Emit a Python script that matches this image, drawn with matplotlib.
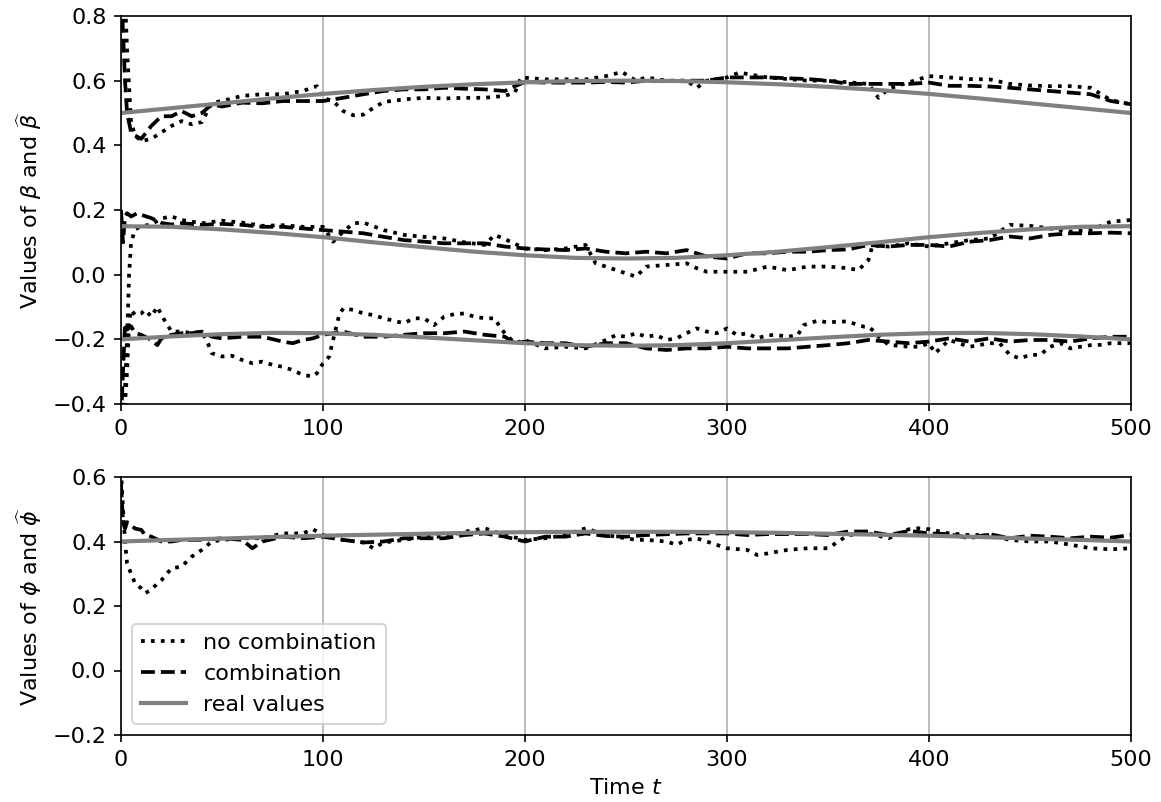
import numpy as np
import matplotlib
matplotlib.use('Agg')
import matplotlib.pyplot as plt

plt.rcParams['font.size'] = 10.7

# real values (read every 25 steps)
t_real = [0, 25, 50, 75, 100, 125, 150, 175, 200, 225, 250,
          275, 300, 325, 350, 375, 400, 425, 450, 475, 500]
beta1_real = [0.50, 0.515, 0.53, 0.545, 0.559, 0.571, 0.581, 0.589, 0.595, 0.599, 0.60,
              0.599, 0.595, 0.589, 0.581, 0.571, 0.559, 0.545, 0.53, 0.515, 0.50]
beta2_real = [0.15, 0.148, 0.14, 0.129, 0.116, 0.10, 0.085, 0.071, 0.06, 0.052, 0.05,
              0.052, 0.06, 0.071, 0.085, 0.10, 0.116, 0.129, 0.14, 0.148, 0.15]
beta3_real = [-0.20, -0.191, -0.184, -0.18, -0.181, -0.186, -0.194, -0.203, -0.212, -0.218, -0.22,
              -0.218, -0.212, -0.203, -0.194, -0.186, -0.181, -0.18, -0.184, -0.191, -0.20]
phi_real = [0.40, 0.405, 0.409, 0.414, 0.418, 0.421, 0.424, 0.427, 0.429, 0.43, 0.43,
            0.43, 0.429, 0.427, 0.424, 0.421, 0.418, 0.414, 0.409, 0.405, 0.40]

# beta1 estimates
t_b1_nc = [0, 2, 3, 4, 5, 7, 10, 15, 20, 25, 30, 35, 40, 45, 50, 60, 70, 80, 90, 97,
           100, 105, 110, 115, 120, 125, 130, 140, 150, 160, 170, 180, 190, 195, 198,
           210, 220, 230, 240, 248, 255, 260, 270, 280, 285, 290, 300, 306, 320, 340,
           350, 360, 370, 375, 380, 390, 400, 410, 420, 430, 440, 450, 460, 470, 480,
           490, 500]
b1_nc = [0.95, 0.85, 0.7, 0.58, 0.47, 0.43, 0.413, 0.42, 0.44, 0.46, 0.475, 0.465, 0.472, 0.532, 0.537, 0.553, 0.558, 0.558, 0.568, 0.583,
         0.547, 0.537, 0.506, 0.493, 0.495, 0.516, 0.534, 0.542, 0.547, 0.545, 0.547, 0.547, 0.553, 0.563, 0.61,
         0.604, 0.604, 0.604, 0.614, 0.627, 0.60, 0.61, 0.60, 0.60, 0.578, 0.60, 0.61, 0.625, 0.61, 0.60,
         0.60, 0.595, 0.59, 0.547, 0.575, 0.595, 0.614, 0.61, 0.605, 0.604, 0.59, 0.585, 0.583, 0.583, 0.578,
         0.54, 0.527]
t_b1_c = [0, 1, 2, 3, 5, 7, 10, 15, 20, 25, 30, 35, 40, 45, 50, 60, 70, 80, 90, 100,
          110, 120, 130, 140, 150, 160, 170, 180, 190, 195, 200, 210, 220, 230, 240, 250,
          260, 270, 280, 290, 300, 320, 340, 350, 360, 370, 380, 390, 400, 410, 420, 430,
          440, 450, 460, 470, 480, 490, 500]
b1_c = [0.9, 0.75, 0.6, 0.5, 0.44, 0.43, 0.42, 0.46, 0.49, 0.49, 0.506, 0.49, 0.50, 0.527, 0.52, 0.532, 0.53, 0.537, 0.537, 0.537,
        0.547, 0.558, 0.568, 0.573, 0.573, 0.578, 0.575, 0.573, 0.568, 0.583, 0.596, 0.594, 0.594, 0.594, 0.596, 0.594,
        0.60, 0.598, 0.60, 0.60, 0.61, 0.61, 0.605, 0.60, 0.59, 0.59, 0.59, 0.59, 0.594, 0.584, 0.584, 0.582,
        0.578, 0.573, 0.568, 0.563, 0.558, 0.537, 0.527]

# beta2 estimates
t_b2_nc = [0, 2, 3, 4, 5, 7, 10, 15, 20, 25, 30, 40, 50, 60, 70, 80, 90, 100, 105, 110,
           115, 120, 130, 140, 150, 160, 170, 180, 185, 190, 200, 210, 220, 230, 235, 240,
           250, 255, 260, 270, 280, 285, 290, 300, 310, 320, 330, 340, 350, 360, 365, 370,
           372, 380, 390, 400, 410, 420, 430, 440, 450, 460, 470, 480, 490, 500]
b2_nc = [-0.5, -0.35, -0.2, 0.0, 0.1, 0.14, 0.15, 0.155, 0.174, 0.18, 0.169, 0.159, 0.167, 0.161, 0.151, 0.153, 0.148, 0.148, 0.102, 0.133,
         0.159, 0.161, 0.138, 0.123, 0.117, 0.112, 0.10, 0.092, 0.123, 0.11, 0.081, 0.076, 0.081, 0.092, 0.035, 0.025,
         0.004, -0.006, 0.025, 0.03, 0.035, 0.02, 0.009, 0.009, 0.009, 0.025, 0.014, 0.025, 0.025, 0.02, 0.014, 0.045,
         0.09, 0.087, 0.097, 0.087, 0.097, 0.107, 0.112, 0.154, 0.151, 0.143, 0.133, 0.138, 0.164, 0.169]
t_b2_c = [0, 1, 2, 3, 5, 8, 10, 15, 20, 25, 30, 40, 50, 60, 70, 80, 90, 100, 110, 120,
          130, 140, 150, 160, 170, 180, 190, 200, 210, 220, 230, 240, 250, 260, 270, 280,
          290, 300, 310, 320, 330, 340, 350, 360, 370, 380, 390, 400, 410, 420, 430, 440,
          450, 460, 470, 480, 490, 500]
b2_c = [0.2, 0.1, 0.18, 0.19, 0.18, 0.19, 0.185, 0.175, 0.16, 0.155, 0.159, 0.154, 0.157, 0.154, 0.148, 0.148, 0.143, 0.138, 0.133, 0.128,
        0.117, 0.107, 0.102, 0.097, 0.097, 0.097, 0.087, 0.081, 0.078, 0.076, 0.081, 0.071, 0.066, 0.071, 0.066, 0.076,
        0.056, 0.05, 0.066, 0.066, 0.071, 0.071, 0.076, 0.078, 0.092, 0.087, 0.092, 0.092, 0.087, 0.102, 0.107, 0.118,
        0.112, 0.123, 0.128, 0.128, 0.13, 0.128]

# beta3 estimates
t_b3_nc = [0, 2, 3, 4, 5, 7, 10, 12, 15, 18, 20, 25, 30, 35, 40, 43, 45, 50, 55, 60,
           65, 70, 75, 80, 85, 90, 95, 97, 100, 103, 105, 108, 110, 115, 120, 125, 130,
           140, 145, 150, 155, 160, 165, 170, 175, 180, 185, 188, 190, 195, 200, 210, 220,
           230, 240, 245, 250, 255, 260, 265, 270, 275, 280, 285, 290, 295, 300, 305, 310,
           315, 320, 325, 330, 335, 338, 345, 350, 355, 360, 365, 368, 370, 373, 375, 380,
           390, 395, 400, 403, 410, 420, 430, 435, 440, 445, 450, 455, 460, 465, 470, 475,
           480, 485, 490, 495, 500]
b3_nc = [-0.5, -0.4, -0.3, -0.15, -0.109, -0.125, -0.12, -0.109, -0.13, -0.099, -0.125, -0.176, -0.176, -0.181, -0.176, -0.212, -0.243, -0.253, -0.251, -0.264,
         -0.274, -0.269, -0.279, -0.285, -0.295, -0.31, -0.315, -0.305, -0.274, -0.254, -0.202, -0.125, -0.104, -0.109, -0.12, -0.125, -0.135,
         -0.15, -0.135, -0.135, -0.156, -0.13, -0.122, -0.12, -0.13, -0.135, -0.135, -0.166, -0.181, -0.212, -0.202, -0.228, -0.223,
         -0.228, -0.202, -0.187, -0.192, -0.181, -0.192, -0.187, -0.202, -0.197, -0.181, -0.166, -0.176, -0.181, -0.166, -0.187, -0.181,
         -0.197, -0.187, -0.187, -0.192, -0.187, -0.156, -0.142, -0.148, -0.145, -0.145, -0.156, -0.161, -0.161, -0.176, -0.192, -0.217,
         -0.223, -0.223, -0.212, -0.243, -0.202, -0.223, -0.212, -0.212, -0.248, -0.259, -0.248, -0.248, -0.223, -0.212, -0.228, -0.223,
         -0.218, -0.217, -0.212, -0.212, -0.212]
t_b3_c = [0, 1, 2, 3, 5, 7, 10, 15, 18, 20, 25, 30, 35, 40, 45, 50, 60, 70, 80, 85,
          90, 95, 100, 110, 120, 130, 140, 150, 160, 170, 180, 190, 195, 200, 210, 220,
          230, 240, 250, 260, 270, 280, 290, 300, 310, 320, 330, 340, 350, 360, 370, 380,
          390, 400, 410, 420, 430, 440, 450, 460, 470, 480, 490, 500]
b3_c = [-0.45, -0.3, -0.15, -0.17, -0.16, -0.18, -0.186, -0.202, -0.218, -0.197, -0.186, -0.181, -0.181, -0.176, -0.192, -0.197, -0.192, -0.192, -0.207, -0.212,
        -0.202, -0.197, -0.186, -0.176, -0.192, -0.192, -0.186, -0.181, -0.181, -0.176, -0.186, -0.192, -0.212, -0.207, -0.212, -0.212,
        -0.223, -0.212, -0.212, -0.228, -0.233, -0.228, -0.228, -0.223, -0.228, -0.228, -0.228, -0.223, -0.218, -0.212, -0.202, -0.207,
        -0.212, -0.207, -0.197, -0.207, -0.197, -0.207, -0.202, -0.202, -0.207, -0.197, -0.192, -0.192]

# phi estimates
t_phi_nc = [0, 1, 2, 3, 5, 7, 10, 12, 15, 18, 20, 25, 30, 35, 40, 45, 50, 60, 70, 80,
            90, 95, 100, 110, 120, 125, 130, 140, 150, 160, 170, 180, 190, 200, 210, 220,
            230, 240, 250, 255, 260, 270, 275, 280, 285, 290, 300, 310, 315, 320, 330, 340,
            350, 360, 370, 380, 390, 395, 400, 410, 420, 430, 440, 450, 460, 470, 480, 490, 500]
phi_nc = [0.62, 0.5, 0.4, 0.332, 0.30, 0.27, 0.255, 0.24, 0.25, 0.27, 0.28, 0.317, 0.322, 0.353, 0.374, 0.40, 0.405, 0.41, 0.41, 0.425,
          0.425, 0.438, 0.42, 0.405, 0.397, 0.379, 0.397, 0.405, 0.415, 0.415, 0.43, 0.441, 0.42, 0.405, 0.41, 0.42,
          0.441, 0.42, 0.41, 0.405, 0.405, 0.40, 0.39, 0.405, 0.41, 0.40, 0.379, 0.374, 0.358, 0.363, 0.374, 0.379,
          0.379, 0.42, 0.425, 0.41, 0.438, 0.441, 0.438, 0.425, 0.42, 0.42, 0.405, 0.40, 0.40, 0.39, 0.379, 0.376, 0.379]
t_phi_c = [0, 1, 2, 3, 5, 7, 10, 12, 15, 20, 25, 30, 40, 50, 60, 65, 70, 80, 90, 100,
           110, 120, 130, 140, 150, 160, 170, 180, 190, 200, 210, 220, 230, 240, 250, 260,
           280, 300, 310, 320, 340, 350, 360, 370, 380, 390, 400, 410, 420, 430, 440, 450,
           460, 470, 480, 490, 500]
phi_c = [0.58, 0.46, 0.44, 0.46, 0.45, 0.44, 0.436, 0.42, 0.415, 0.40, 0.40, 0.405, 0.405, 0.41, 0.405, 0.379, 0.40, 0.415, 0.41, 0.415,
         0.405, 0.397, 0.40, 0.41, 0.41, 0.41, 0.42, 0.425, 0.415, 0.40, 0.415, 0.415, 0.425, 0.417, 0.415, 0.42,
         0.425, 0.425, 0.42, 0.423, 0.423, 0.42, 0.431, 0.431, 0.42, 0.433, 0.425, 0.423, 0.41, 0.423, 0.41, 0.418,
         0.415, 0.41, 0.415, 0.412, 0.42]

W, H = 1161, 802
fig = plt.figure(figsize=(W / 150, H / 150), dpi=150)
ax1 = fig.add_axes([121 / W, 1 - 404 / H, 1010 / W, 388 / H])
ax2 = fig.add_axes([121 / W, 1 - 735 / H, 1010 / W, 258 / H])

lw = 1.8
for t, y in [(t_b1_nc, b1_nc), (t_b2_nc, b2_nc), (t_b3_nc, b3_nc)]:
    ax1.plot(t, y, ':', color='black', lw=lw)
for t, y in [(t_b1_c, b1_c), (t_b2_c, b2_c), (t_b3_c, b3_c)]:
    ax1.plot(t, y, '--', color='black', lw=lw)
for y in [beta1_real, beta2_real, beta3_real]:
    ax1.plot(t_real, y, '-', color='gray', lw=2)

ax2.plot(t_phi_nc, phi_nc, ':', color='black', lw=lw, label='no combination')
ax2.plot(t_phi_c, phi_c, '--', color='black', lw=lw, label='combination')
ax2.plot(t_real, phi_real, '-', color='gray', lw=2, label='real values')

ax1.set_xlim(0, 500)
ax1.set_ylim(-0.4, 0.8)
ax2.set_xlim(0, 500)
ax2.set_ylim(-0.2, 0.6)
ax1.set_yticks(np.arange(-0.4, 0.81, 0.2))
ax2.set_yticks(np.arange(-0.2, 0.61, 0.2))
for ax in (ax1, ax2):
    ax.set_xticks(range(0, 501, 100))
    ax.grid(axis='x', color='#b0b0b0', lw=0.8)

ax1.set_ylabel(r'Values of $\beta$ and $\widehat{\beta}$')
ax2.set_ylabel(r'Values of $\phi$ and $\widehat{\phi}$')
ax2.set_xlabel(r'Time $t$')
ax2.legend(loc='lower left')

fig.savefig('out.png', dpi=150)
